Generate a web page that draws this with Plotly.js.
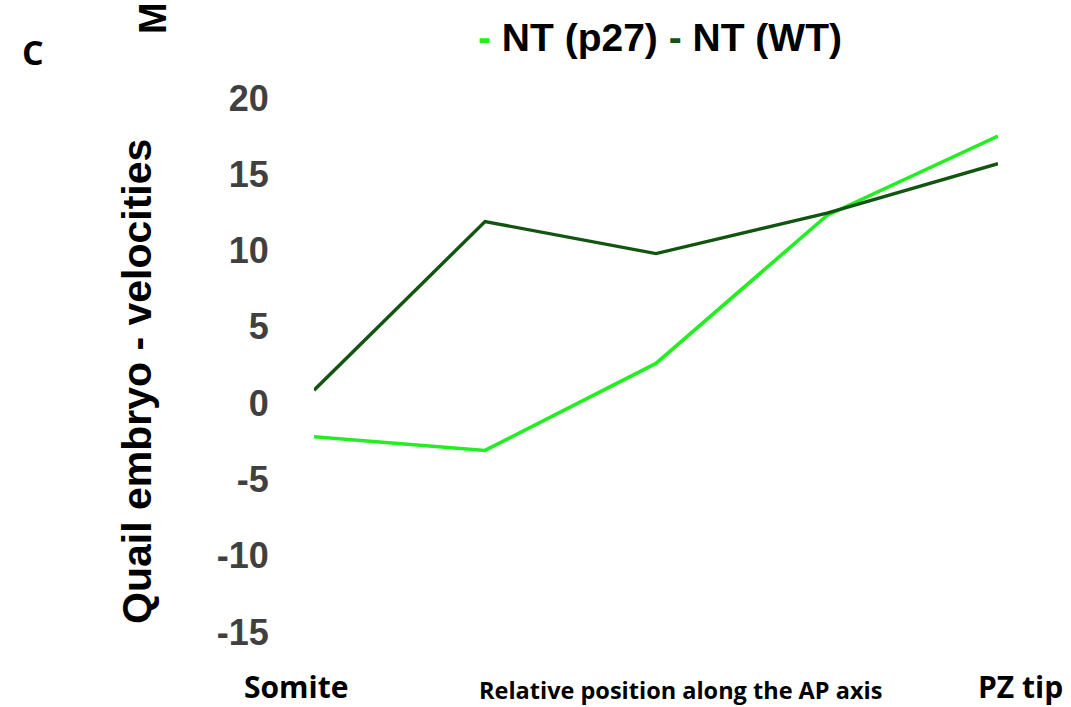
<!DOCTYPE html>
<html>
<head>
<meta charset="utf-8">
<script src="https://cdn.plot.ly/plotly-3.0.1.min.js"></script>
<style>html,body{margin:0;padding:0;background:#fff;}#chart{width:1071px;height:707px;}</style>
</head>
<body>
<div id="chart"></div>
<script>
// Data
var positions = [1, 2, 3, 4, 5];
var seriesNames = ["NT (p27)", "NT (WT)"];
var p27Values = [-2.2, -3.1, 2.6, 12.3, 17.5];
var wtValues = [0.85, 11.9, 9.8, 12.45, 15.7];
var yTickValues = [-15, -10, -5, 0, 5, 10, 15, 20];
var yTickLabels = ["-15", "-10", "-5", "0", "5", "10", "15", "20"];
var xEndLabels = ["Somite", "PZ tip"];
var xTitle = "Relative position along the AP axis";
var yTitle = "Quail embryo - velocities";

var colP27 = "#22ee22";
var colWT = "#115511";

var traces = [
  {x: positions, y: p27Values, name: seriesNames[0], type: "scatter", mode: "lines",
   line: {color: colP27, width: 3.6}, showlegend: false},
  {x: positions, y: wtValues, name: seriesNames[1], type: "scatter", mode: "lines",
   line: {color: colWT, width: 3.4}, showlegend: false}
];

var L = 314, R = 73, T = 98, B = 75, W = 1071, H = 707;
var pw = W - L - R, ph = H - T - B;
function px(x) { return (x - L) / pw; }
function py(y) { return (H - B - y) / ph; }

var arial = "Liberation Sans, Arial, sans-serif";
var calib = "Open Sans, sans-serif";

var layout = {
  width: W, height: H,
  margin: {l: L, r: R, t: T, b: B, pad: 0},
  paper_bgcolor: "#ffffff", plot_bgcolor: "#ffffff",
  showlegend: false,
  xaxis: {range: [1, 5], visible: false, fixedrange: true},
  yaxis: {range: [-15, 20], tickvals: yTickValues, ticktext: yTickLabels,
          showgrid: false, zeroline: false, showline: false,
          ticks: "outside", ticklen: 37, tickcolor: "rgba(0,0,0,0)",
          tickfont: {family: arial, size: 36, color: "#404040", weight: "bold"}},
  annotations: [
    {xref: "paper", yref: "paper", x: px(137), y: py(381), text: "<b>" + yTitle + "</b>",
     textangle: -90, showarrow: false, xanchor: "center", yanchor: "middle",
     font: {family: arial, size: 41, color: "#000000"}},
    {xref: "paper", yref: "paper", x: px(660), y: py(38),
     text: "<span style='color:" + colP27 + "'><b>-</b></span> <b>" + seriesNames[0] + "</b> <span style='color:" + colWT + "'><b>-</b></span> <b>" + seriesNames[1] + "</b>",
     showarrow: false, xanchor: "center", yanchor: "middle",
     font: {family: arial, size: 39, color: "#000000"}},
    {xref: "paper", yref: "paper", x: px(33), y: py(52), text: "<b>C</b>",
     showarrow: false, xanchor: "center", yanchor: "middle",
     font: {family: calib, size: 34, color: "#000000"}},
    {xref: "paper", yref: "paper", x: px(153), y: py(36), text: "<b>M</b>",
     textangle: -90, showarrow: false, xanchor: "center", yanchor: "bottom",
     font: {family: arial, size: 38, color: "#000000"}},
    {xref: "paper", yref: "paper", x: px(296), y: py(686), text: "<b>" + xEndLabels[0] + "</b>",
     showarrow: false, xanchor: "center", yanchor: "middle",
     font: {family: calib, size: 30, color: "#000000"}},
    {xref: "paper", yref: "paper", x: px(1020), y: py(686), text: "<b>" + xEndLabels[1] + "</b>",
     showarrow: false, xanchor: "center", yanchor: "middle",
     font: {family: calib, size: 30, color: "#000000"}},
    {xref: "paper", yref: "paper", x: px(680), y: py(690), text: "<b>" + xTitle + "</b>",
     showarrow: false, xanchor: "center", yanchor: "middle",
     font: {family: calib, size: 23.5, color: "#000000"}}
  ]
};

Plotly.newPlot("chart", traces, layout, {displayModeBar: false, staticPlot: true});
</script>
</body>
</html>
